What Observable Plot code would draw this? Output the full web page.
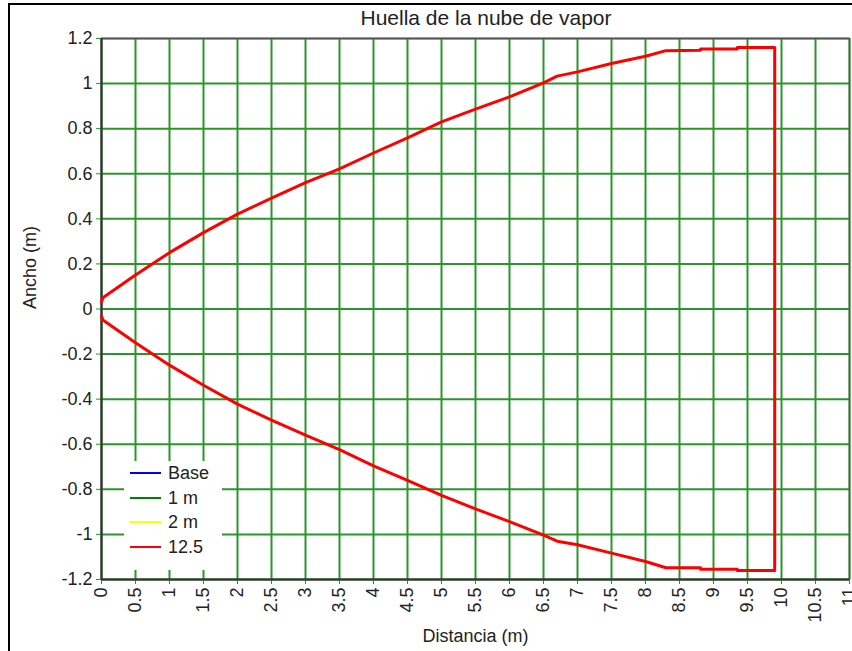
<!DOCTYPE html>
<html>
<head>
<meta charset="utf-8">
<script src="https://cdn.jsdelivr.net/npm/d3@7"></script>
<script src="https://cdn.jsdelivr.net/npm/@observablehq/plot@0.6"></script>
<style>
  html, body { margin: 0; padding: 0; background: #ffffff; }
  #wrap { position: relative; width: 852px; height: 651px; overflow: hidden; background: #ffffff;
          font-family: "Liberation Sans", Arial, sans-serif; color: #222; }
  #border { position: absolute; left: 8px; top: 3px; width: 860px; height: 660px;
            border-left: 2px solid #000; border-top: 2px solid #000; }
  #chart { position: absolute; left: 0; top: 0; }
  #title { position: absolute; left: 236px; top: 7px; width: 500px; text-align: center;
           font-size: 21px; line-height: 21px; color: #222; white-space: nowrap; }
  #legend { position: absolute; left: 124px; top: 461px; width: 98px; height: 109px; background: #ffffff; }
  .lg-row { position: absolute; left: 0; height: 24px; width: 98px; }
  .lg-line { position: absolute; left: 6px; width: 31px; height: 2px; top: 11px; }
  .lg-text { position: absolute; left: 44px; top: 0; font-size: 18px; line-height: 24px; color: #222; white-space: nowrap; }
</style>
</head>
<body>
<div id="wrap">
  <div id="border"></div>
  <div id="chart"></div>
  <div id="title"></div>
  <div id="legend"></div>
</div>
<script>
// ---- Data ----
const titleText = "Huella de la nube de vapor";
const xLabel = "Distancia (m)";
const yLabel = "Ancho (m)";

const xTicks = [0, 0.5, 1, 1.5, 2, 2.5, 3, 3.5, 4, 4.5, 5, 5.5, 6, 6.5, 7, 7.5, 8, 8.5, 9, 9.5, 10, 10.5, 11];
const yTicks = [-1.2, -1, -0.8, -0.6, -0.4, -0.2, 0, 0.2, 0.4, 0.6, 0.8, 1, 1.2];

const legendLabels = ["Base", "1 m", "2 m", "12.5"];
const legendColors = ["#0000ff", "#008000", "#ffff00", "#ff0000"];

// Series "12.5": footprint outline (upper edge, lower edge)
const edgeX  = [0, 0.02, 0.5, 1, 1.5, 2, 2.5, 3, 3.5, 4, 4.5, 5, 5.5, 6, 6.5, 6.7, 7, 7.5, 8, 8.3, 8.81, 8.81, 9.35, 9.35, 9.9];
const upperY = [0.031, 0.05, 0.151, 0.25, 0.339, 0.421, 0.492, 0.561, 0.622, 0.692, 0.759, 0.83, 0.887, 0.941, 1.003, 1.033, 1.052, 1.089, 1.121, 1.146, 1.148, 1.153, 1.153, 1.16, 1.16];
const lowerY = [-0.031, -0.049, -0.15, -0.249, -0.338, -0.422, -0.493, -0.56, -0.624, -0.696, -0.76, -0.827, -0.887, -0.943, -1.003, -1.03, -1.046, -1.083, -1.12, -1.148, -1.148, -1.154, -1.154, -1.16, -1.16];

// ---- Build ----
const outline = [];
edgeX.forEach((x, i) => outline.push({x, y: upperY[i]}));
for (let i = edgeX.length - 1; i >= 0; i--) outline.push({x: edgeX[i], y: lowerY[i]});

const green = "#2a962a";
const fmt = d => String(d);

const chart = Plot.plot({
  width: 852,
  height: 651,
  marginLeft: 101,
  marginRight: 3,
  marginTop: 38,
  marginBottom: 72,
  x: {domain: [0, 11], label: null},
  y: {domain: [-1.2, 1.2], label: null},
  style: {fontFamily: "'Liberation Sans', Arial, sans-serif", fontSize: "18px", background: "transparent", color: "#222"},
  marks: [
    Plot.gridX(xTicks, {stroke: green, strokeOpacity: 1, strokeWidth: 2}),
    Plot.gridY(yTicks, {stroke: green, strokeOpacity: 1, strokeWidth: 2}),
    Plot.axisX(xTicks, {tickRotate: -90, tickSize: 5, tickPadding: 3, tickFormat: fmt, stroke: green, fill: "#222", label: null}),
    Plot.axisY(yTicks, {tickSize: 5, tickPadding: 4, tickFormat: fmt, stroke: green, fill: "#222", label: null}),
    Plot.frame({stroke: "#555", strokeWidth: 1.5}),
    Plot.ruleX([0], {stroke: "#333", strokeWidth: 2}),
    Plot.ruleY([-1.2], {stroke: "#333", strokeWidth: 2}),
    Plot.line(outline, {x: "x", y: "y", stroke: "#ff0000", strokeWidth: 3}),
    Plot.text([xLabel], {frameAnchor: "bottom", dy: 62, fill: "#222", fontSize: 18}),
    Plot.text([yLabel], {frameAnchor: "left", rotate: -90, dx: -71, fill: "#222", fontSize: 18})
  ]
});
document.getElementById("chart").appendChild(chart);
document.getElementById("title").textContent = titleText;

const legend = document.getElementById("legend");
legendLabels.forEach((lab, i) => {
  const row = document.createElement("div");
  row.className = "lg-row";
  row.style.top = (i * 24.5) + "px";
  const ln = document.createElement("div");
  ln.className = "lg-line";
  ln.style.background = legendColors[i];
  const tx = document.createElement("div");
  tx.className = "lg-text";
  tx.textContent = lab;
  row.appendChild(ln);
  row.appendChild(tx);
  legend.appendChild(row);
});
</script>
</body>
</html>
